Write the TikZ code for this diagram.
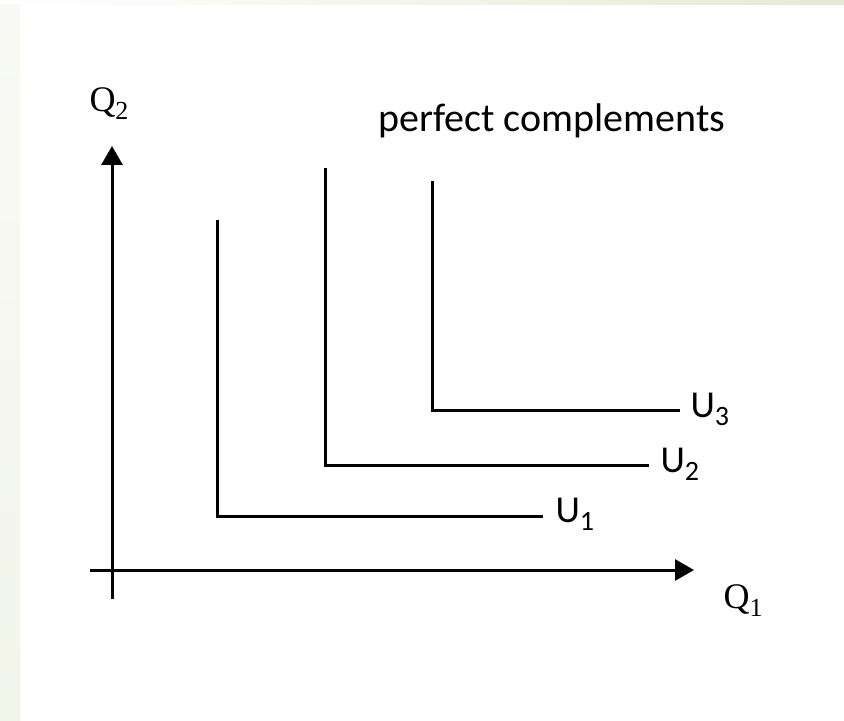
\documentclass[tikz,border=0pt]{standalone}
\usepackage{fontspec}
\setmainfont{Carlito}
\newfontfamily\qfont{Liberation Serif}
\usetikzlibrary{calc}
\usetikzlibrary{arrows.meta}
\definecolor{bgleft}{HTML}{F9FAF5}
\definecolor{bgleftlow}{HTML}{F2F5EA}
\definecolor{bgtop}{HTML}{E4EBD3}
\newcommand{\sublab}[2]{#1\raisebox{-4pt}{\fontsize{14}{14}\selectfont #2}}

\begin{document}
\begin{tikzpicture}[x=0.5pt,y=-0.5pt,inner sep=0pt,line width=1.5pt]
\useasboundingbox (0,0) rectangle (844,721);
\fill[left color=white,right color=bgtop] (0,0) rectangle (844,5);
\fill[top color=bgleft,bottom color=bgleftlow] (0,5) rectangle (20,721);
\def\ax{-{Triangle[length=9.5pt,width=10.5pt]}}
\coordinate (x0) at (90,570);
\coordinate (x1) at (694,570);
\coordinate (y0) at (112,599);
\coordinate (y1) at (112,146);
\draw[\ax] (x0) -- (x1);
\draw[\ax] (y0) -- (y1);
\node[anchor=base west] (q2) at (88,112) {\fontsize{18}{18}\selectfont\qfont Q\raisebox{-4pt}{\fontsize{13}{13}\selectfont 2}};
\node[anchor=base west] (q1) at (722,608) {\fontsize{18}{18}\selectfont\qfont Q\raisebox{-4pt}{\fontsize{13}{13}\selectfont 1}};
\node[anchor=base west] (title) at (377,132) {\fontsize{20}{20}\selectfont perfect complements};
\coordinate (u1a) at (217,220);
\coordinate (u1b) at (543,516);
\coordinate (u2a) at (325,168);
\coordinate (u2b) at (649,465);
\coordinate (u3a) at (432,181);
\coordinate (u3b) at (680,410);
\draw (u1a) |- (u1b);
\draw (u2a) |- (u2b);
\draw (u3a) |- (u3b);
\node[anchor=base west,font=\fontsize{19}{19}\selectfont] (u1) at ($(u1b)+(11,6)$) {\sublab{U}{1}};
\node[anchor=base west,font=\fontsize{19}{19}\selectfont] (u2) at ($(u2b)+(10,7)$) {\sublab{U}{2}};
\node[anchor=base west,font=\fontsize{19}{19}\selectfont] (u3) at ($(u3b)+(9,7)$) {\sublab{U}{3}};
\end{tikzpicture}
\end{document}
